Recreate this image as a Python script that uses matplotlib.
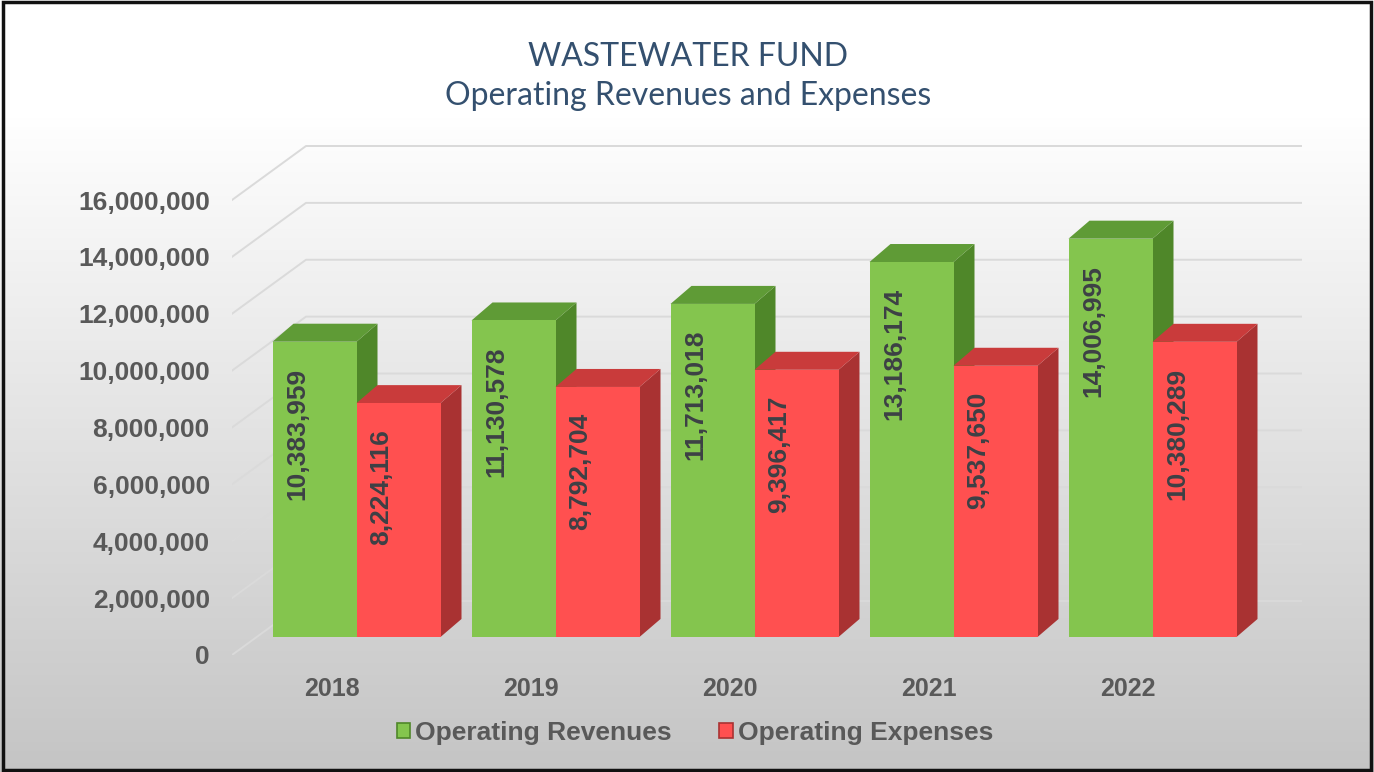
import numpy as np
import matplotlib.pyplot as plt
from matplotlib.patches import Rectangle, Polygon, Patch

years = ["2018", "2019", "2020", "2021", "2022"]
revenues = [10383959, 11130578, 11713018, 13186174, 14006995]
expenses = [8224116, 8792704, 9396417, 9537650, 10380289]
yticks = [0, 2000000, 4000000, 6000000, 8000000, 10000000, 12000000, 14000000, 16000000]

# pseudo-3D geometry, expressed in pixels and converted to data units below
W, H = 1374, 772
PX_CAT = 199.0            # pixels per category slot
PX_VAL = 455.0 / 16e6     # pixels per unit of value
AX_LEFT, AX_RIGHT = 232, 1320
AX_BOTTOM, AX_TOP = 655, 120

REV_FRONT = ("#84c54e", "#5f9b36", "#4f8729")   # front, top, side
EXP_FRONT = ("#ff5050", "#c93b3b", "#a93232")


def px2x(p):
    return p / PX_CAT


def px2y(p):
    return p / PX_VAL


wall_dx, wall_dy = px2x(74), px2y(54)
shift_dx, shift_dy = px2x(26), px2y(18)
depth_dx, depth_dy = px2x(21), px2y(18)
bar_w = px2x(84)

fig = plt.figure(figsize=(W / 100, H / 100), dpi=100)

# background gradient (white at top, grey towards the bottom) + frame
bg = fig.add_axes([0, 0, 1, 1])
t = np.linspace(0, 1, 256)
t = np.clip((t - 0.15) / 0.85, 0, 1)
shade = 1.0 - 0.23 * t
img = np.repeat(shade[:, None, None], 3, axis=2)
bg.imshow(img, aspect="auto", extent=[0, 1, 0, 1], origin="upper")
bg.add_patch(Rectangle((0.002, 0.003), 0.996, 0.994, transform=bg.transAxes,
                       fill=False, edgecolor="#111111", linewidth=2.5))
bg.set_xlim(0, 1)
bg.set_ylim(0, 1)
bg.axis("off")

ax = fig.add_axes([AX_LEFT / W, (H - AX_BOTTOM) / H,
                   (AX_RIGHT - AX_LEFT) / W, (AX_BOTTOM - AX_TOP) / H])
ax.patch.set_alpha(0)
ax.set_xlim(-0.5, -0.5 + px2x(AX_RIGHT - AX_LEFT))
ax.set_ylim(0, px2y(AX_BOTTOM - AX_TOP))
for s in ax.spines.values():
    s.set_visible(False)

# gridlines: diagonal on the side wall, horizontal on the back wall
x_end = len(years) - 0.5 + wall_dx
for v in yticks:
    ax.plot([-0.5, -0.5 + wall_dx, x_end], [v, v + wall_dy, v + wall_dy],
            color="#dadada", linewidth=1.4, zorder=1)


def draw_bar(xl, value, colors, label):
    y0 = shift_dy
    front, top, side = colors
    ax.add_patch(Polygon([(xl + bar_w, y0), (xl + bar_w + depth_dx, y0 + depth_dy),
                          (xl + bar_w + depth_dx, y0 + value + depth_dy),
                          (xl + bar_w, y0 + value)], closed=True,
                         facecolor=side, edgecolor="none", zorder=3))
    ax.add_patch(Polygon([(xl, y0 + value), (xl + bar_w, y0 + value),
                          (xl + bar_w + depth_dx, y0 + value + depth_dy),
                          (xl + depth_dx, y0 + value + depth_dy)], closed=True,
                         facecolor=top, edgecolor="none", zorder=3))
    ax.add_patch(Rectangle((xl, y0), bar_w, value, facecolor=front,
                           edgecolor="none", zorder=3))
    ax.text(xl + px2x(25), y0 + value - px2y(26), label, rotation=90,
            ha="center", va="top", fontsize=19, fontweight="bold",
            color="#3d4045", family="Liberation Sans", zorder=4)


for i, (r, e) in enumerate(zip(revenues, expenses)):
    x_rev = i - bar_w + shift_dx - px2x(1)
    x_exp = i + shift_dx - px2x(1)
    draw_bar(x_rev, r, REV_FRONT, f"{r:,}")
    draw_bar(x_exp, e, EXP_FRONT, f"{e:,}")

ax.set_yticks(yticks)
ax.set_yticklabels([f"{v:,}" for v in yticks])
ax.set_xticks(range(len(years)))
ax.set_xticklabels(years)
ax.tick_params(axis="y", length=0, pad=16, labelsize=19, labelcolor="#595959")
ax.tick_params(axis="x", length=0, pad=16, labelsize=18, labelcolor="#595959")
for lbl in ax.get_xticklabels() + ax.get_yticklabels():
    lbl.set_fontweight("bold")
    lbl.set_family("Liberation Sans")

fig.text(688 / W, 1 - 57 / H, "WASTEWATER FUND", ha="center", va="center",
         fontsize=23, color="#34506f", family="Lato")
fig.text(688 / W, 1 - 96 / H, "Operating Revenues and Expenses", ha="center",
         va="center", fontsize=23, color="#34506f", family="Lato")

handles = [Patch(facecolor=REV_FRONT[0], edgecolor=REV_FRONT[2], linewidth=1.2),
           Patch(facecolor=EXP_FRONT[0], edgecolor=EXP_FRONT[2], linewidth=1.2)]
leg = fig.legend(handles, ["Operating Revenues", "Operating Expenses"],
                 loc="center", bbox_to_anchor=(695 / W, 1 - 733 / H), ncol=2,
                 frameon=False, handlelength=0.5, handleheight=0.5,
                 handletextpad=0.2, columnspacing=1.8,
                 prop={"family": "Liberation Sans", "weight": "bold", "size": 19})
for t in leg.get_texts():
    t.set_color("#595959")

fig.savefig("out.png", dpi=100)
